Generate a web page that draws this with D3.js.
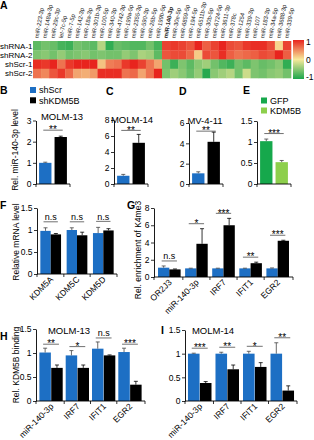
<!DOCTYPE html>
<html><head><meta charset="utf-8">
<script src="https://cdn.jsdelivr.net/npm/d3@7"></script>
<style>
body{margin:0;background:#fff;}
svg{display:block;font-family:"Liberation Sans",Arial,sans-serif;}
</style></head><body>
<svg id="chart" width="314" height="440"></svg>
<script>
// ---------------- DATA ----------------
const mirnas = ["miR-223-3p","miR-148a-3p","miR-29c-3p","let-7c-5p","miR-7-5p","miR-142-3p","miR-18a-3p","miR-301b-3p","miR-100-5p","miR-340-3p","miR-4742-3p","miR-199a-5p","miR-2355-3p","miR-590-3p","miR-26b-5p","miR-199b-5p",
 "miR-140-3p","miR-30e-5p","miR-6859-5p","miR-194-5p","miR-6511b-3p","miR-30b-5p","miR-6724-5p","miR-3611-3p","miR-378c","miR-1254","miR-339-3p","miR-107","miR-183-3p","miR-34a-5p","miR-3688-3p","miR-339-5p"];
const hmRows = ["shRNA-1","shRNA-2","shScr-1","shScr-2"];
const hmShRNA1 = [-0.7,-0.6,-0.65,-0.8,-0.85,-0.6,-0.65,-0.7,-0.3,-0.9,-0.65,-0.7,-0.75,-0.75,-0.6,-0.8, 0.85,0.9,0.85,0.75,1.0,0.7,0.85,1.0,0.8,0.75,0.9,0.95,0.95,0.8,0.1,0.85];
const hmShRNA2 = [-0.55,-0.5,-0.6,-0.45,-0.6,-0.55,-0.5,-0.6,-0.55,-0.6,-0.6,-0.45,-0.55,-0.35,-0.4,-0.7, 0.75,0.8,0.8,0.65,0.15,0.8,0.75,0.95,0.7,0.6,0.65,0.7,0.8,0.75,1.0,0.7];
const hmShScr1 = [0.95,0.9,1.0,0.6,0.9,1.0,1.0,1.0,0.2,0.55,0.6,0.9,1.0,0.85,0.6,0.35, -0.6,-0.85,-0.55,-0.7,-0.5,-0.4,-0.6,-0.75,-0.85,-0.6,-0.7,-0.55,-0.65,-0.6,-0.5,-0.9];
const hmShScr2 = [0.6,0.5,0.75,0.9,0.65,0.35,0.3,0.4,0.95,0.95,0.95,0.6,0.65,0.35,0.6,1.0, -0.55,-0.4,-0.5,-0.65,-0.45,-0.95,-0.5,-0.4,-0.3,-0.6,-0.2,-0.55,-0.6,-0.5,-0.45,-0.6];
const hmTicks = [1,0,-1];

const kdSeries = ["shScr","shKDM5B"];
const oeSeries = ["GFP","KDM5B"];

const bCats = ["MOLM-13"], bMean = [1.0,2.22], bErr = [0.03,0.04], bSig = ["**"], bTicks=[0,1,2,3];
const cCats = ["MOLM-14"], cMean = [1.03,5.15], cErr = [0.17,1.05], cSig = ["**"], cTicks=[0,2,4,6,8];
const dCats = ["MV-4-11"], dMean = [1.05,4.15], dErr = [0.15,0.95], dSig = ["**"], dTicks=[0,2,4,6];
const eCats = ["OE"], eMean = [1.02,0.52], eErr = [0.05,0.04], eSig = ["***"], eTicks=[0,0.5,1,1.5];

const fCats = ["KDM5A","KDM5C","KDM5D"];
const fScr = [0.98,1.0,0.93], fScrErr = [0.07,0.05,0.13];
const fKD = [0.9,0.88,0.99], fKDErr = [0.02,0.07,0.04];
const fSig = ["n.s","n.s","n.s"], fTicks=[0,0.5,1,1.5];

const gCats = ["OR2J3","miR-140-3p","IRF7","IFIT1","EGR2"];
const gScr = [1.08,1.0,1.0,1.0,1.0], gScrErr = [0.2,0.02,0.02,0.02,0.05];
const gKD = [0.88,3.85,6.0,1.6,4.2], gKDErr = [0.05,1.75,0.8,0.12,0.06];
const gSig = ["n.s","*","***","**","***"], gTicks=[0,2,4,6,8];

const hCats = ["miR-140-3p","IRF7","IFIT1","EGR2"];
const hScr = [1.01,0.95,1.09,1.02], hScrErr = [0.09,0.1,0.14,0.08];
const hKD = [0.69,0.69,0.95,0.34], hKDErr = [0.06,0.06,0.01,0.07];
const hSig = ["**","*","n.s","***"], hTicks=[0,0.5,1,1.5];

const iCats = ["miR-140-3p","IRF7","IFIT1","EGR2"];
const iScr = [1.0,1.0,1.0,1.0], iScrErr = [0.01,0.03,0.05,0.23];
const iKD = [0.38,0.67,0.72,0.22], iKDErr = [0.03,0.09,0.09,0.1];
const iSig = ["***","**","*","**"], iTicks=[0,0.5,1,1.5];

// ---------------- STYLE ----------------
const BLUE = "#1d6fc4", BLACK = "#000", GREEN = "#16a84c", LGREEN = "#8dcf4c";
const svg = d3.select("#chart");

// ---------------- HEATMAP ----------------
const hmData = [hmShRNA1,hmShRNA2,hmShScr1,hmShScr2];
const hx = d3.scaleBand().domain(mirnas).range([33,291]);
const hy = d3.scaleBand().domain(hmRows).range([41,78]);
const hcol = d3.scaleLinear().domain([-1,0,1]).range(["#1ba64b","#f7e99a","#e8241e"]).clamp(true);
const hm = svg.append("g");
hmRows.forEach((r,ri)=>{
  hm.selectAll(null).data(mirnas).join("rect")
    .attr("x",m=>hx(m)).attr("y",hy(r))
    .attr("width",hx.bandwidth()+0.3).attr("height",hy.bandwidth()+0.3)
    .attr("fill",(m,ci)=>hcol(hmData[ri][ci]));
});
hm.selectAll(null).data(hmRows).join("text")
  .attr("x",32.5).attr("y",r=>hy(r)+hy.bandwidth()/2+3)
  .attr("text-anchor","end").attr("font-size",8).text(r=>r);
hm.selectAll(null).data(mirnas).join("text")
  .attr("transform",m=>`translate(${hx(m)+hx.bandwidth()/2+1.5},38.5) rotate(-80)`)
  .attr("font-size",5.9).attr("fill","#222")
  .attr("font-weight",m=>m==="miR-140-3p"?"bold":"normal")
  .text(m=>m);
// colorbar
const defs = svg.append("defs");
const grad = defs.append("linearGradient").attr("id","cb").attr("x1",0).attr("y1",0).attr("x2",0).attr("y2",1);
d3.range(0,1.0001,0.1).forEach(t=>grad.append("stop").attr("offset",t).attr("stop-color",hcol(1-2*t)));
const cby = d3.scaleLinear().domain([1,-1]).range([40,79]);
svg.append("rect").attr("x",293).attr("y",40).attr("width",11).attr("height",39).attr("fill","url(#cb)");
svg.selectAll(null).data(hmTicks).join("text")
  .attr("x",306).attr("y",d=>cby(d)+ (d===1?5:d===-1?1:3)).attr("font-size",8.5).text(d=>d);

// ---------------- BAR PANEL HELPER ----------------
function barPanel(cfg){
  const g = svg.append("g");
  const x0 = d3.scaleBand().domain(cfg.cats).range(cfg.xRange).paddingInner(cfg.pi).paddingOuter(cfg.po);
  const x1 = d3.scaleBand().domain(d3.range(cfg.series.length)).range([0,x0.bandwidth()])
              .paddingInner(cfg.bi||0).paddingOuter(cfg.bo||0);
  const y = d3.scaleLinear().domain([0,d3.max(cfg.ticks)]).range(cfg.yRange);
  cfg.series.forEach((s,si)=>{
    g.selectAll(null).data(cfg.cats).join("rect")
      .attr("x",c=>x0(c)+x1(si)).attr("width",x1.bandwidth())
      .attr("y",(c,i)=>y(s.vals[i])).attr("height",(c,i)=>y(0)-y(s.vals[i]))
      .attr("fill",s.color);
    g.selectAll(null).data(cfg.cats).join("path")
      .attr("d",(c,i)=>{const cx=x0(c)+x1(si)+x1.bandwidth()/2, t=y(s.vals[i]+s.errs[i]), b=y(s.vals[i]);
                         return `M${cx},${b}V${t}M${cx-2},${t}H${cx+2}`;})
      .attr("stroke",s.ecol||"#444").attr("stroke-width",0.8).attr("fill","none");
  });
  // y axis
  const ya = g.append("g").attr("transform",`translate(${cfg.xRange[0]},0)`)
    .call(d3.axisLeft(y).tickValues(cfg.ticks).tickSize(3).tickSizeOuter(0).tickPadding(1.5).tickFormat(d=>d));
  ya.selectAll("text").attr("font-size",8.5).attr("font-family","Liberation Sans,Arial,sans-serif").attr("fill","#000");
  ya.select(".domain").attr("stroke","#000").attr("stroke-width",0.9);
  ya.selectAll(".tick line").attr("stroke","#000").attr("stroke-width",0.8);
  // x axis line + boundary ticks
  const y0 = y(0);
  g.append("line").attr("x1",cfg.xRange[0]).attr("x2",cfg.xRange[1]).attr("y1",y0).attr("y2",y0)
    .attr("stroke","#000").attr("stroke-width",0.9);
  const bounds = [cfg.xRange[0]];
  cfg.cats.forEach((c,k)=>{ if(k<cfg.cats.length-1) bounds.push((x0(c)+x0.bandwidth()+x0(cfg.cats[k+1]))/2); });
  bounds.push(cfg.xRange[1]);
  g.selectAll(null).data(bounds).join("line")
    .attr("x1",d=>d).attr("x2",d=>d).attr("y1",y0).attr("y2",y0+3)
    .attr("stroke","#000").attr("stroke-width",0.8);
  // x labels
  if(cfg.xLabels){
    g.selectAll(null).data(cfg.cats).join("text")
      .attr("transform",c=>`translate(${x0(c)+x0.bandwidth()/2+3},${y0+6}) rotate(-45)`)
      .attr("text-anchor","end").attr("font-size",8.5).text(c=>c);
  }
  // significance
  cfg.cats.forEach((c,i)=>{
    const top = d3.max(cfg.series,s=>s.vals[i]+s.errs[i]);
    const ly = y(top) - (cfg.sigGap||5);
    const xa = x0(c)+x1(0)+x1.bandwidth()/2, xb = x0(c)+x1(1)+x1.bandwidth()/2;
    g.append("line").attr("x1",xa-2).attr("x2",xb+2).attr("y1",ly).attr("y2",ly).attr("stroke","#333").attr("stroke-width",0.7);
    const s = cfg.sigs[i];
    g.append("text").attr("x",(xa+xb)/2).attr("y",s==="n.s"?ly-1.5:ly+3.2)
      .attr("text-anchor","middle").attr("font-size",s==="n.s"?9:10).text(s);
  });
  if(cfg.title){
    g.append("text").attr("x",cfg.title[1]).attr("y",cfg.title[2]).attr("text-anchor","middle")
      .attr("font-size",9.5).text(cfg.title[0]);
  }
  if(cfg.ylabel){
    g.append("text").attr("transform",`translate(${cfg.ylabel[1]},${cfg.ylabel[2]}) rotate(-90)`)
      .attr("text-anchor","middle").attr("font-size",8.5).text(cfg.ylabel[0]);
  }
  return g;
}

function letter(t,x,y){ svg.append("text").attr("x",x).attr("y",y).attr("font-size",10.5).attr("font-weight","bold").text(t); }

// ---------------- PANELS B-E ----------------
const single = {pi:0,po:0,bi:0.2,bo:0.2};
barPanel(Object.assign({cats:bCats,xRange:[36,70],yRange:[184,120.5],ticks:bTicks,sigs:bSig,
  series:[{vals:[bMean[0]],errs:[bErr[0]],color:BLUE},{vals:[bMean[1]],errs:[bErr[1]],color:BLACK,ecol:"#000"}],
  title:["MOLM-13",62,119.5], ylabel:["Rel. miR-140-3p level",18,150], sigGap:6},single));
barPanel(Object.assign({cats:cCats,xRange:[114,148],yRange:[184,120],ticks:cTicks,sigs:cSig,
  series:[{vals:[cMean[0]],errs:[cErr[0]],color:BLUE},{vals:[cMean[1]],errs:[cErr[1]],color:BLACK,ecol:"#000"}],
  title:["MOLM-14",132,122.5], sigGap:4},single));
barPanel(Object.assign({cats:dCats,xRange:[189,223],yRange:[184,123],ticks:dTicks,sigs:dSig,
  series:[{vals:[dMean[0]],errs:[dErr[0]],color:BLUE},{vals:[dMean[1]],errs:[dErr[1]],color:BLACK,ecol:"#000"}],
  title:["MV-4-11",205,124], sigGap:1},single));
barPanel(Object.assign({cats:eCats,xRange:[257,291],yRange:[184,121],ticks:eTicks,sigs:eSig,
  series:[{vals:[eMean[0]],errs:[eErr[0]],color:GREEN},{vals:[eMean[1]],errs:[eErr[1]],color:LGREEN}],
  sigGap:5.5},single));

// legends
const legB = svg.append("g");
legB.selectAll(null).data(kdSeries).join("rect").attr("x",30).attr("y",(d,i)=>87+i*10.3).attr("width",6).attr("height",6)
  .attr("fill",(d,i)=>[BLUE,BLACK][i]);
legB.selectAll(null).data(kdSeries).join("text").attr("x",39).attr("y",(d,i)=>93.3+i*10.3).attr("font-size",9).text(d=>d);
const legE = svg.append("g");
legE.selectAll(null).data(oeSeries).join("rect").attr("x",261).attr("y",(d,i)=>97.5+i*10).attr("width",6).attr("height",6)
  .attr("fill",(d,i)=>[GREEN,LGREEN][i]);
legE.selectAll(null).data(oeSeries).join("text").attr("x",270).attr("y",(d,i)=>104+i*10).attr("font-size",9).text(d=>d);

// ---------------- PANEL F ----------------
barPanel({cats:fCats,xRange:[37,117],yRange:[274,208],ticks:fTicks,sigs:fSig,pi:0.213,po:0.127,
  series:[{vals:fScr,errs:fScrErr,color:BLUE},{vals:fKD,errs:fKDErr,color:BLACK,ecol:"#000"}],
  xLabels:true, ylabel:["Relative mRNA level",19,242], sigGap:6});
// ---------------- PANEL G ----------------
barPanel({cats:gCats,xRange:[154,293],yRange:[277,208],ticks:gTicks,sigs:gSig,pi:0.166,po:0.148,
  series:[{vals:gScr,errs:gScrErr,color:BLUE},{vals:gKD,errs:gKDErr,color:BLACK,ecol:"#000"}],
  xLabels:true, ylabel:["Rel. enrichment of K4me3",141,250], sigGap:5});
// ---------------- PANEL H ----------------
barPanel({cats:hCats,xRange:[36,145],yRange:[401,329],ticks:hTicks,sigs:hSig,pi:0.114,po:0.129,bi:0.03,
  series:[{vals:hScr,errs:hScrErr,color:BLUE},{vals:hKD,errs:hKDErr,color:BLACK,ecol:"#000"}],
  xLabels:true, title:["MOLM-13",69,334], ylabel:["Rel. KDM5B binding",19,365], sigGap:4});
// ---------------- PANEL I ----------------
barPanel({cats:iCats,xRange:[185,297],yRange:[401,330],ticks:iTicks,sigs:iSig,pi:0.145,po:0.108,bi:0.03,
  series:[{vals:iScr,errs:iScrErr,color:BLUE},{vals:iKD,errs:iKDErr,color:BLACK,ecol:"#000"}],
  xLabels:true, title:["MOLM-14",213,333.5], sigGap:5});

// panel letters
letter("A",0,9); letter("B",0,94); letter("C",106,95); letter("D",179,95); letter("E",243,94);
letter("F",0,209); letter("G",127,209); letter("H",0,340); letter("I",161,334);
</script>
</body></html>
